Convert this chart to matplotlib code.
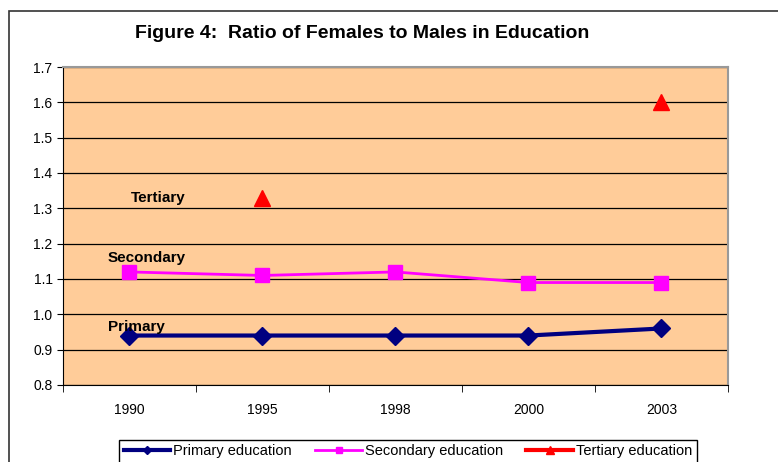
import numpy as np
import matplotlib
matplotlib.use('Agg')
import matplotlib.pyplot as plt
from matplotlib.patches import Rectangle

plt.rcParams['font.family'] = ['Liberation Sans', 'DejaVu Sans']

years = ['1990', '1995', '1998', '2000', '2003']
primary = [0.94, 0.94, 0.94, 0.94, 0.96]
secondary = [1.12, 1.11, 1.12, 1.09, 1.09]
tertiary = [np.nan, 1.33, np.nan, np.nan, 1.60]

fig = plt.figure(figsize=(7.78, 4.62), dpi=100)
fig.patches.append(Rectangle((9/778, -0.2), 1.5, 1 - 11/462 + 0.2, transform=fig.transFigure,
                             fill=False, edgecolor='#333333', linewidth=1.2))
ax = fig.add_axes([63/778, 1 - 385/462, 665/778, 318/462])
ax.set_facecolor('#FFCC99')

x = np.arange(len(years))
ax.plot(x, primary, color='#000080', linewidth=3, marker='D', markersize=9, label='Primary education')
ax.plot(x, secondary, color='#FF00FF', linewidth=2, marker='s', markersize=10, label='Secondary education')
ax.plot(x, tertiary, color='#FF0000', linewidth=3, marker='^', markersize=11, linestyle='-', label='Tertiary education')

ax.set_xlim(-0.5, 4.5)
ax.set_ylim(0.8, 1.7)
ax.set_yticks(np.arange(0.8, 1.71, 0.1))
ax.set_yticklabels(['%.1f' % v for v in np.arange(0.8, 1.71, 0.1)], fontsize=10)
ax.set_xticks(x)
ax.set_xticklabels(years, fontsize=10)
ax.set_xticks(np.arange(-0.5, 4.6, 1), minor=True)
ax.tick_params(axis='x', which='major', length=0, pad=13)
ax.tick_params(axis='x', which='minor', length=5, direction='out')
ax.tick_params(axis='y', length=4, direction='out')
ax.grid(axis='y', color='black', linewidth=0.9)
ax.set_axisbelow(True)
for s in ['top', 'right']:
    ax.spines[s].set_color('#999999')
    ax.spines[s].set_linewidth(1.5)
for s in ['left', 'bottom']:
    ax.spines[s].set_color('black')

ax.text(0.01, 1.33, 'Tertiary', fontsize=11, fontweight='bold', va='center', ha='left')
ax.text(-0.165, 1.16, 'Secondary', fontsize=11, fontweight='bold', va='center', ha='left')
ax.text(-0.165, 0.965, 'Primary', fontsize=11, fontweight='bold', va='center', ha='left')

fig.text(362/778, 1 - 34/462, 'Figure 4:  Ratio of Females to Males in Education', fontsize=14,
         fontweight='bold', ha='center', va='center')

leg = fig.legend(loc='upper center', bbox_to_anchor=(408/778, 1 - 440/462), ncol=3, fontsize=10.5,
                 frameon=True, fancybox=False, edgecolor='black', framealpha=1, borderaxespad=0,
                 handlelength=3.2, columnspacing=1.6, borderpad=0.3, handletextpad=0.2, markerscale=0.5)
leg.get_frame().set_linewidth(1)

fig.savefig('out.png', dpi=100)
